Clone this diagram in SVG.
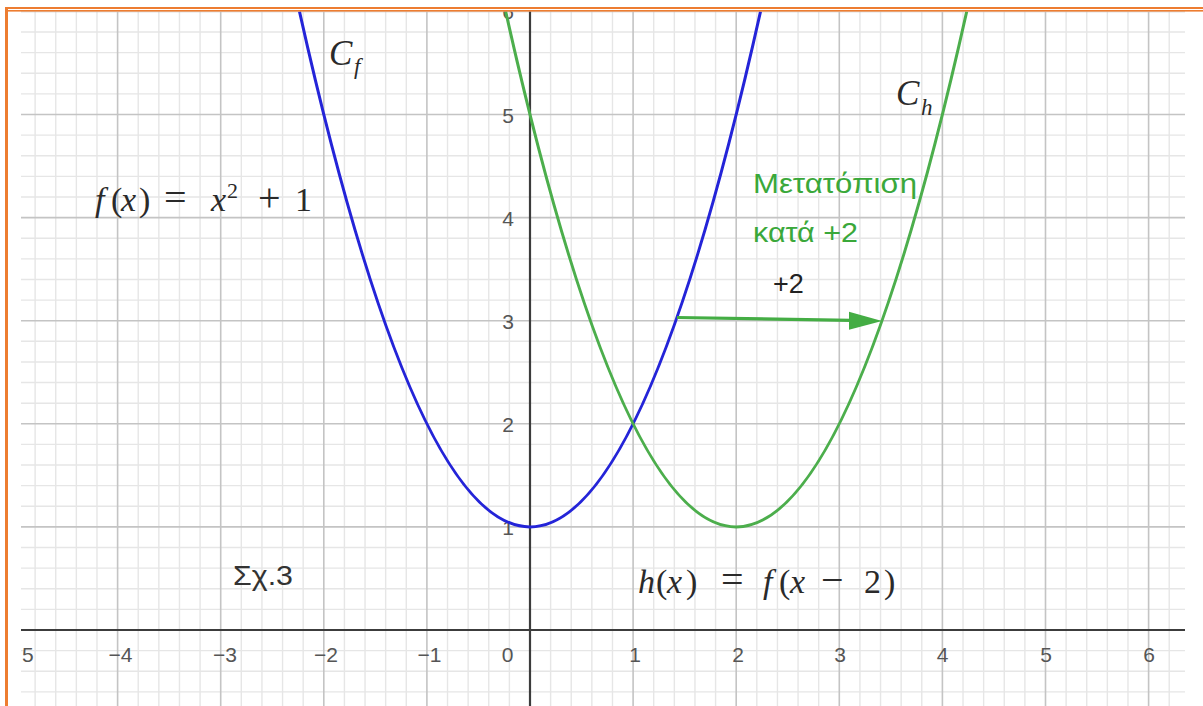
<svg xmlns="http://www.w3.org/2000/svg" width="1203" height="706" viewBox="0 0 1203 706">
<defs>
<clipPath id="plot"><rect x="21" y="11.4" width="1164" height="695"/></clipPath>
<style>
.minor{stroke:#e6e6e6;stroke-width:1.4;fill:none}
.major{stroke:#c4c4c4;stroke-width:1.6;fill:none}
.axis{stroke:#3c3c3c;stroke-width:2.2;fill:none}
.lbl{font-family:"Liberation Sans",Arial,sans-serif;font-size:21px;fill:#555}
.lx{text-anchor:middle}
.ly{text-anchor:end}
.math{font-family:"Liberation Serif","Times New Roman",serif;font-size:34px;fill:#2a2a2a}
.it{font-style:italic}
.op{font-size:40px}
.sans{font-family:"Liberation Sans",Arial,sans-serif}
.green{fill:#3aa83a}
.fcurve{stroke:#2424d8;stroke-width:3;fill:none}
.hcurve{stroke:#4cae4c;stroke-width:3;fill:none}
.orange{fill:#ED7D31}
</style>
</defs>
<rect x="0" y="0" width="1203" height="706" fill="#ffffff"/>
<g id="grid" clip-path="url(#plot)">
<path class="minor" d="M35.12 11V706M55.74 11V706M76.36 11V706M96.98 11V706M138.22 11V706M158.84 11V706M179.46 11V706M200.08 11V706M241.32 11V706M261.94 11V706M282.56 11V706M303.18 11V706M344.42 11V706M365.04 11V706M385.66 11V706M406.28 11V706M447.52 11V706M468.14 11V706M488.76 11V706M509.38 11V706M550.62 11V706M571.24 11V706M591.86 11V706M612.48 11V706M653.72 11V706M674.34 11V706M694.96 11V706M715.58 11V706M756.82 11V706M777.44 11V706M798.06 11V706M818.68 11V706M859.92 11V706M880.54 11V706M901.16 11V706M921.78 11V706M963.02 11V706M983.64 11V706M1004.26 11V706M1024.88 11V706M1066.12 11V706M1086.74 11V706M1107.36 11V706M1127.98 11V706M1169.22 11V706M21 691.86H1185M21 671.24H1185M21 650.62H1185M21 609.38H1185M21 588.76H1185M21 568.14H1185M21 547.52H1185M21 506.28H1185M21 485.66H1185M21 465.04H1185M21 444.42H1185M21 403.18H1185M21 382.56H1185M21 361.94H1185M21 341.32H1185M21 300.08H1185M21 279.46H1185M21 258.84H1185M21 238.22H1185M21 196.98H1185M21 176.36H1185M21 155.74H1185M21 135.12H1185M21 93.88H1185M21 73.26H1185M21 52.64H1185M21 32.02H1185"/>
<path class="major" d="M117.6 11V706M220.7 11V706M323.8 11V706M426.9 11V706M633.1 11V706M736.2 11V706M839.3 11V706M942.4 11V706M1045.5 11V706M1148.6 11V706M21 526.9H1185M21 423.8H1185M21 320.7H1185M21 217.6H1185M21 114.5H1185M21 11.4H1185"/>
<path class="axis" d="M21 630H1185M530 11V706"/>
</g>
<g id="axis-labels" clip-path="url(#plot)">
<text class="lbl" x="22" y="661.5">5</text>
<text class="lbl lx" x="120.5" y="661.5">−4</text>
<text class="lbl lx" x="225" y="661.5">−3</text>
<text class="lbl lx" x="326" y="661.5">−2</text>
<text class="lbl lx" x="429.5" y="661.5">−1</text>
<text class="lbl lx" x="507.5" y="661.5">0</text>
<text class="lbl lx" x="635" y="661.5">1</text>
<text class="lbl lx" x="738" y="661.5">2</text>
<text class="lbl lx" x="840" y="661.5">3</text>
<text class="lbl lx" x="942.5" y="661.5">4</text>
<text class="lbl lx" x="1046" y="661.5">5</text>
<text class="lbl lx" x="1149" y="661.5">6</text>
<text class="lbl ly" x="514" y="19.4">6</text>
<text class="lbl ly" x="514" y="122.5">5</text>
<text class="lbl ly" x="514" y="225.6">4</text>
<text class="lbl ly" x="514" y="328.7">3</text>
<text class="lbl ly" x="514" y="431.8">2</text>
<text class="lbl ly" x="514" y="534.9">1</text>
</g>
<g id="curve-f" clip-path="url(#plot)">
<path class="fcurve" d="M299.45 11.4Q530 1042.4 760.55 11.4"/>
</g>
<g id="curve-h" clip-path="url(#plot)">
<path class="hcurve" d="M505.65 11.4Q736.2 1042.4 966.75 11.4"/>
</g>
<g id="connectors">
<path d="M677 317.5L851 320.4" stroke="#44ad44" stroke-width="3.2" fill="none"/>
<polygon points="882,321 849,311.8 849,329.8" fill="#44ad44"/>
</g>
<g id="label-Cf">
<text class="math" y="65"><tspan class="it" x="329" font-size="35">C</tspan><tspan class="it" x="354" y="74" font-size="23">f</tspan></text>
</g>
<g id="label-Ch">
<text class="math" y="105"><tspan class="it" x="896" font-size="35">C</tspan><tspan class="it" x="921" y="115" font-size="23">h</tspan></text>
</g>
<g id="label-f">
<text class="math" y="211"><tspan class="it" x="95">f</tspan><tspan x="111">(</tspan><tspan class="it" x="121">x</tspan><tspan x="139">)</tspan><tspan class="op" x="164">=</tspan><tspan class="it" x="211">x</tspan><tspan x="227" y="198" font-size="22">2</tspan><tspan class="op" x="258" y="211">+</tspan><tspan x="295">1</tspan></text>
</g>
<g id="label-h">
<text class="math" y="593"><tspan class="it" x="638">h</tspan><tspan x="656">(</tspan><tspan class="it" x="667">x</tspan><tspan x="686">)</tspan><tspan class="op" x="721">=</tspan><tspan class="it" x="763">f</tspan><tspan x="779">(</tspan><tspan class="it" x="790">x</tspan><tspan class="op" x="821">−</tspan><tspan x="864">2</tspan><tspan x="884">)</tspan></text>
</g>
<g id="label-shift">
<text class="sans green" x="753" y="193" font-size="28" textLength="164" lengthAdjust="spacingAndGlyphs">Μετατόπιση</text>
<text class="sans green" x="753" y="242" font-size="28" textLength="105" lengthAdjust="spacingAndGlyphs">κατά +2</text>
</g>
<g id="label-plus2">
<text class="sans" x="773" y="293" font-size="27" fill="#222">+2</text>
</g>
<g id="label-fig">
<text class="sans" x="233" y="585" font-size="28" fill="#333" textLength="60" lengthAdjust="spacingAndGlyphs">Σχ.3</text>
</g>
<g id="frame">
<rect class="orange" x="5" y="7" width="3" height="699"/>
<rect class="orange" x="5" y="7" width="1198" height="2"/>
<rect class="orange" x="8" y="10" width="1195" height="1.6"/>
</g>
</svg>
